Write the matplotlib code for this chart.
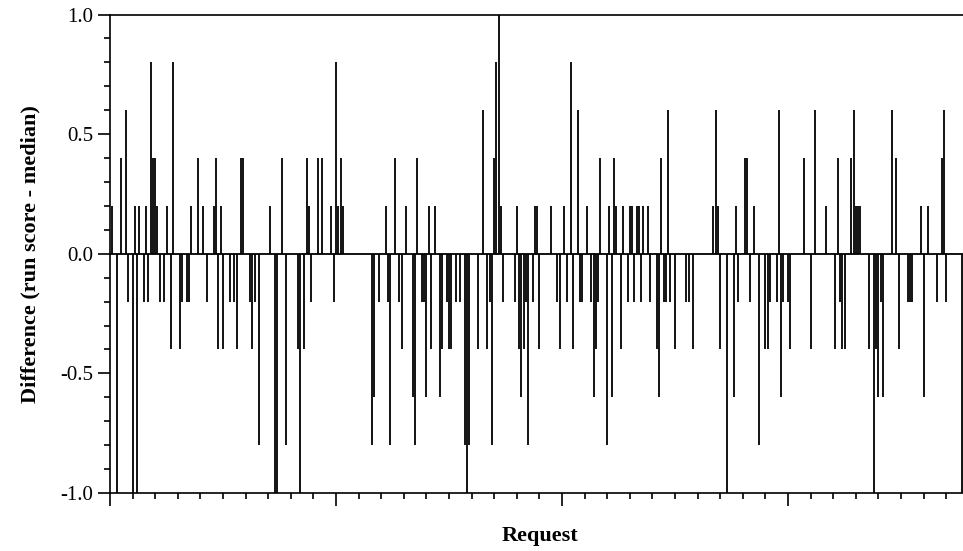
import matplotlib
matplotlib.use("Agg")
import matplotlib.pyplot as plt
from matplotlib.ticker import MultipleLocator, NullFormatter

# request index and (run score - median) for every non-zero request
request = [1, 3, 5, 7, 8, 10, 11, 12, 13, 15, 16, 17, 18, 19, 20, 21, 22, 24, 25, 27,
           28, 31, 32, 34, 35, 36, 39, 41, 43, 46, 47, 48, 49, 50, 53, 55, 56, 58, 59, 62,
           63, 64, 66, 71, 73, 74, 76, 78, 83, 84, 86, 87, 88, 89, 92, 94, 98, 99, 100, 101,
           102, 103, 116, 117, 119, 122, 123, 124, 126, 128, 129, 131, 134, 135, 136, 138, 139, 140, 141, 142,
           144, 146, 147, 149, 150, 151, 153, 155, 157, 158, 159, 163, 165, 167, 168, 169, 170, 171, 172, 173,
           174, 179, 180, 181, 182, 183, 184, 185, 187, 188, 189, 190, 195, 198, 199, 201, 202, 204, 205, 207,
           208, 209, 211, 213, 214, 215, 216, 217, 220, 221, 222, 223, 224, 226, 227, 229, 230, 231, 232, 233,
           234, 235, 236, 238, 239, 242, 243, 244, 245, 246, 247, 248, 250, 255, 256, 258, 267, 268, 269, 270,
           273, 276, 277, 278, 281, 282, 283, 285, 287, 290, 291, 292, 295, 296, 297, 298, 300, 301, 307, 310,
           312, 317, 321, 322, 323, 324, 325, 328, 329, 330, 331, 332, 336, 338, 339, 340, 341, 342, 346, 348,
           349, 353, 354, 355, 359, 360, 362, 366, 368, 369, 370, 377]
difference = [0.2, -1.0, 0.4, 0.6, -0.2, -1.0, 0.2, -1.0, 0.2, -0.2, 0.2, -0.2, 0.8, 0.4, 0.4, 0.2, -0.2, -0.2, 0.2, -0.4,
              0.8, -0.4, -0.2, -0.2, -0.2, 0.2, 0.4, 0.2, -0.2, 0.2, 0.4, -0.4, 0.2, -0.4, -0.2, -0.2, -0.4, 0.4, 0.4, -0.2,
              -0.4, -0.2, -0.8, 0.2, -1.0, -1.0, 0.4, -0.8, -0.4, -1.0, -0.4, 0.4, 0.2, -0.2, 0.4, 0.4, 0.2, -0.2, 0.8, 0.2,
              0.4, 0.2, -0.8, -0.6, -0.2, 0.2, -0.2, -0.8, 0.4, -0.2, -0.4, 0.2, -0.6, -0.8, 0.4, -0.2, -0.2, -0.6, 0.2, -0.4,
              0.2, -0.6, -0.4, -0.2, -0.4, -0.4, -0.2, -0.2, -0.8, -1.0, -0.8, -0.4, 0.6, -0.4, -0.2, -0.8, 0.4, 0.8, 1.0, 0.2,
              -0.2, -0.2, 0.2, -0.4, -0.6, -0.4, -0.2, -0.8, -0.2, 0.2, 0.2, -0.4, 0.2, -0.2, -0.4, 0.2, -0.2, 0.8, -0.4, 0.6,
              -0.2, -0.2, 0.2, -0.2, -0.6, -0.4, -0.2, 0.4, -0.8, 0.2, -0.6, 0.4, 0.2, -0.4, 0.2, -0.2, 0.2, 0.2, -0.2, 0.2,
              0.2, -0.2, 0.2, 0.2, -0.2, -0.4, -0.6, 0.4, -0.2, -0.2, 0.6, -0.2, -0.4, -0.2, -0.2, -0.4, 0.2, 0.6, 0.2, -0.4,
              -1.0, -0.6, 0.2, -0.2, 0.4, 0.4, -0.2, 0.2, -0.8, -0.4, -0.4, -0.2, -0.2, 0.6, -0.6, -0.2, -0.2, -0.4, 0.4, -0.4,
              0.6, 0.2, -0.4, 0.4, -0.2, -0.4, -0.4, 0.4, 0.6, 0.2, 0.2, 0.2, -0.4, -1.0, -0.4, -0.6, -0.2, -0.6, 0.6, 0.4,
              -0.4, -0.2, -0.2, -0.2, 0.2, -0.6, 0.2, -0.2, 0.4, 0.6, -0.2, -1.0]

plt.rcParams['font.family'] = ['Liberation Serif', 'DejaVu Serif']

fig = plt.figure(figsize=(9.63, 5.51), dpi=100)
# the chart is cut on the right: the axes run past the edge of the picture
ax = fig.add_axes([110 / 963, 1 - 493 / 551, 904 / 963, 478.5 / 551])

ax.vlines(request, 0, difference, color='black', linewidth=1.3)
ax.axhline(0, color='black', linewidth=1.3)

ax.set_xlim(0, 400)
ax.set_ylim(-1.0, 1.0)
ax.spines['right'].set_visible(False)
for s in ['left', 'bottom', 'top']:
    ax.spines[s].set_linewidth(1.2)

ax.xaxis.set_major_locator(MultipleLocator(100))
ax.xaxis.set_minor_locator(MultipleLocator(10))
ax.xaxis.set_major_formatter(NullFormatter())
ax.yaxis.set_major_locator(MultipleLocator(0.5))
ax.yaxis.set_minor_locator(MultipleLocator(0.1))
ax.yaxis.set_major_formatter(plt.FuncFormatter(lambda y, _: f'{y:.1f}'))
ax.tick_params(which='major', direction='out', length=9, width=1.2, labelsize=15, pad=3)
ax.tick_params(which='minor', direction='out', length=4, width=1.2)
ax.tick_params(top=False, right=False)

ax.set_xlabel('Request', fontsize=16, fontweight='bold')
ax.xaxis.set_label_coords((540 - 110) / 904, -(526 - 493) / 478.5)
ax.set_ylabel('Difference (run score - median)', fontsize=16, fontweight='bold')
ax.yaxis.set_label_coords(-(110 - 40) / 904, 0.5)

fig.savefig('out.png', dpi=100)
